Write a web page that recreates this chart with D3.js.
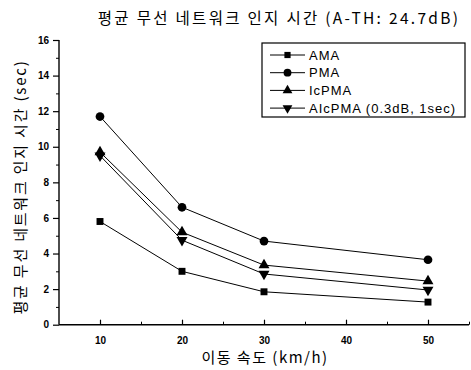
<!DOCTYPE html>
<html>
<head>
<meta charset="utf-8">
<script src="https://cdn.jsdelivr.net/npm/d3@7"></script>
<style>
body{margin:0;background:#fff}
svg{display:block}
text{font-family:"Liberation Sans",Arial,"Noto Sans CJK KR",sans-serif;fill:#000}
</style>
</head>
<body>
<div id="chart"></div>
<script>
// data
const speeds = [10, 20, 30, 50];
const seriesNames = ["AMA", "PMA", "IcPMA", "AIcPMA (0.3dB, 1sec)"];
const ama = [5.8, 3.0, 1.85, 1.27];
const pma = [11.7, 6.6, 4.7, 3.65];
const icpma = [9.7, 5.2, 3.35, 2.45];
const aicpma = [9.5, 4.75, 2.85, 1.95];
const yTicks = [0, 2, 4, 6, 8, 10, 12, 14, 16];
const xTicks = [10, 20, 30, 40, 50];

const W = 471, H = 370;
const svg = d3.select("#chart").append("svg").attr("width", W).attr("height", H);

let x = d3.scaleLinear().domain([5, 55]).range([59, 469]);
let y = d3.scaleLinear().domain([0, 16]).range([324.7, 40]);

const kr = "'Noto Sans CJK KR',sans-serif";

// title
svg.append("text").attr("x", 279).attr("y", 24).attr("text-anchor", "middle")
  .style("font-size", "15.5px").style("font-family", kr).style("letter-spacing", "2.3px")
  .text("평균 무선 네트워크 인지 시간 (A-TH: 24.7dB)");

// axes
let axisX = d3.axisBottom(x).tickValues(xTicks).tickSize(-5).tickFormat(d3.format("d"));
let axisXminor = d3.axisBottom(x).tickValues([15, 25, 35, 45, 55]).tickSize(-3).tickFormat("");
let axisY = d3.axisLeft(y).tickValues(yTicks).tickSize(6).tickFormat(d3.format("d"));
let axisYminor = d3.axisLeft(y).tickValues(d3.range(1, 16, 2)).tickSize(3).tickFormat("");

let gx = svg.append("g").attr("transform", "translate(0," + y(0) + ")").call(axisX);
svg.append("g").attr("transform", "translate(0," + y(0) + ")").call(axisXminor).select(".domain").remove();
let gy = svg.append("g").attr("transform", "translate(" + x(5) + ",0)").call(axisY);
svg.append("g").attr("transform", "translate(" + x(5) + ",0)").call(axisYminor).select(".domain").remove();

gx.select(".domain").attr("stroke-width", 1.6).attr("d", "M" + x(5) + ",0H" + x(55));
gy.select(".domain").attr("stroke-width", 1.4).attr("d", "M0," + y(0) + "V" + y(16));
gx.selectAll(".tick line").attr("stroke-width", 1.2);
gy.selectAll(".tick line").attr("stroke-width", 1.2);
gx.selectAll("text").attr("dy", "1.6em").style("font-size", "10px").style("font-weight", "bold");
gy.selectAll("text").attr("dx", "-0.1em").style("font-size", "10px").style("font-weight", "bold");

// axis labels
svg.append("text").attr("x", 265).attr("y", 363).attr("text-anchor", "middle")
  .style("font-size", "15px").style("font-family", kr).style("letter-spacing", "1.5px")
  .text("이동 속도 (km/h)");
svg.append("text").attr("transform", "translate(26,187) rotate(-90)").attr("text-anchor", "middle")
  .style("font-size", "15px").style("font-family", kr).style("letter-spacing", "1.8px")
  .text("평균 무선 네트워크 인지 시간 (sec)");

// series
const allSeries = [ama, pma, icpma, aicpma];
const symbols = [d3.symbolSquare, d3.symbolCircle, d3.symbolTriangle, d3.symbolTriangle];
const symSize = [48, 60, 52, 52];
const rot = [0, 0, 0, 180];

let line = d3.line().x((d, i) => x(speeds[i])).y(d => y(d));

allSeries.forEach((vals, s) => {
  svg.append("path").attr("d", line(vals)).attr("fill", "none")
    .attr("stroke", "#000").attr("stroke-width", 1);
  svg.selectAll(".pt" + s).data(vals).enter().append("path")
    .attr("d", d3.symbol().type(symbols[s]).size(symSize[s]))
    .attr("transform", (d, i) => "translate(" + x(speeds[i]) + "," + y(d) + ") rotate(" + rot[s] + ")")
    .attr("fill", "#000");
});

// legend
let legend = svg.append("g").attr("transform", "translate(262,43)");
legend.append("rect").attr("x", 0).attr("y", 0).attr("width", 203).attr("height", 74)
  .attr("fill", "#fff").attr("stroke", "#000").attr("stroke-width", 1.2);
seriesNames.forEach((name, s) => {
  let ly = 12 + s * 17.7;
  legend.append("line").attr("x1", 8).attr("x2", 43).attr("y1", ly).attr("y2", ly)
    .attr("stroke", "#000").attr("stroke-width", 1);
  legend.append("path").attr("d", d3.symbol().type(symbols[s]).size(symSize[s] * 0.8))
    .attr("transform", "translate(25.5," + ly + ") rotate(" + rot[s] + ")").attr("fill", "#000");
  legend.append("text").attr("x", 47).attr("y", ly + 4.5).style("font-size", "13px")
    .style("letter-spacing", "1px").text(name);
});
</script>
</body>
</html>
